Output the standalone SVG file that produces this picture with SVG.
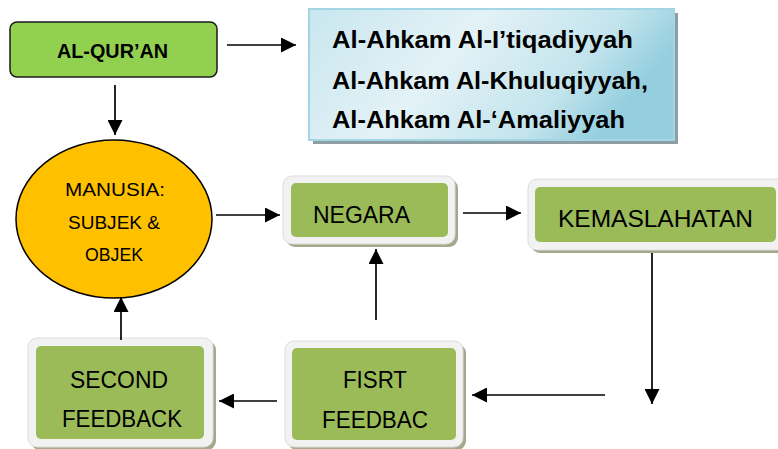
<svg xmlns="http://www.w3.org/2000/svg" width="778" height="449" viewBox="0 0 778 449">
<defs>
<marker id="ah" markerUnits="userSpaceOnUse" markerWidth="15" markerHeight="15" refX="15" refY="7.5" orient="auto">
<path d="M0,0 L15,7.5 L0,15 z" fill="#000"/>
</marker>
<linearGradient id="blue" x1="0" y1="0" x2="1" y2="0.3">
<stop offset="0" stop-color="#c9e6ef"/>
<stop offset="0.45" stop-color="#e3f2f6"/>
<stop offset="0.8" stop-color="#c3e4ed"/>
<stop offset="1" stop-color="#94cedf"/>
</linearGradient>
<style>
.t{font-family:"Liberation Sans",Arial,sans-serif;fill:#000;}
.b{font-weight:bold;}
.frame{fill:#f2f2f2;stroke:#dcdcdc;stroke-width:1;}
.shadow{fill:#a6a88c;}
.green{fill:#9bbb59;}
.con{stroke:#000;stroke-width:1.7;fill:none;marker-end:url(#ah);}
</style>
</defs>
<rect width="778" height="449" fill="#fff"/>

<g id="alquran">
<rect x="10" y="22" width="207" height="55" rx="7" fill="#92d050" stroke="#1a1a1a" stroke-width="1.5"/>
<text class="t b" x="112.5" y="58.3" font-size="19.5" text-anchor="middle" textLength="111" lengthAdjust="spacingAndGlyphs">AL-QUR’AN</text>
</g>

<g id="ahkam">
<rect x="313" y="13" width="365" height="131" fill="#8d9ea5"/>
<rect x="309" y="9" width="365" height="131" fill="url(#blue)" stroke="#a3d6e4" stroke-width="2"/>
<text class="t b" x="332" y="48.3" font-size="23" textLength="301" lengthAdjust="spacingAndGlyphs">Al-Ahkam Al-I’tiqadiyyah</text>
<text class="t b" x="332" y="89.3" font-size="23" textLength="316" lengthAdjust="spacingAndGlyphs">Al-Ahkam Al-Khuluqiyyah,</text>
<text class="t b" x="332" y="128.3" font-size="23" textLength="293" lengthAdjust="spacingAndGlyphs">Al-Ahkam Al-‘Amaliyyah</text>
</g>

<g id="manusia">
<ellipse cx="114" cy="219" rx="98" ry="79" fill="#ffc000" stroke="#000" stroke-width="1.5"/>
<text class="t" x="115" y="196" font-size="19" text-anchor="middle" textLength="100" lengthAdjust="spacingAndGlyphs">MANUSIA:</text>
<text class="t" x="114" y="229" font-size="19" text-anchor="middle" textLength="92" lengthAdjust="spacingAndGlyphs">SUBJEK &amp;</text>
<text class="t" x="114" y="261" font-size="19" text-anchor="middle" textLength="58" lengthAdjust="spacingAndGlyphs">OBJEK</text>
</g>

<g id="negara">
<rect class="shadow" x="286" y="179" width="172" height="68" rx="9"/>
<rect class="frame" x="283" y="176" width="172" height="68" rx="9"/>
<rect class="green" x="291" y="183" width="157" height="54" rx="5"/>
<text class="t" x="361.5" y="223.3" font-size="24" text-anchor="middle" textLength="97" lengthAdjust="spacingAndGlyphs">NEGARA</text>
</g>

<g id="kemaslahatan">
<rect class="shadow" x="531" y="182" width="260" height="71" rx="9"/>
<rect class="frame" x="528" y="179" width="260" height="71" rx="9"/>
<rect class="green" x="535" y="187" width="241" height="55" rx="5"/>
<text class="t" x="655.5" y="227.3" font-size="24" text-anchor="middle" textLength="195" lengthAdjust="spacingAndGlyphs">KEMASLAHATAN</text>
</g>

<g id="first-feedback">
<rect class="shadow" x="288" y="344" width="178" height="106" rx="9"/>
<rect class="frame" x="285" y="341" width="178" height="106" rx="9"/>
<rect class="green" x="292" y="348" width="164" height="92" rx="5"/>
<text class="t" x="375" y="388" font-size="24" text-anchor="middle" textLength="64" lengthAdjust="spacingAndGlyphs">FISRT</text>
<text class="t" x="375" y="428" font-size="24" text-anchor="middle" textLength="106" lengthAdjust="spacingAndGlyphs">FEEDBAC</text>
</g>

<g id="second-feedback">
<rect class="shadow" x="31" y="341" width="185" height="109" rx="9"/>
<rect class="frame" x="28" y="338" width="185" height="109" rx="9"/>
<rect class="green" x="36" y="346" width="168" height="93" rx="5"/>
<text class="t" x="119" y="388" font-size="24" text-anchor="middle" textLength="98" lengthAdjust="spacingAndGlyphs">SECOND</text>
<text class="t" x="122" y="427" font-size="24" text-anchor="middle" textLength="120" lengthAdjust="spacingAndGlyphs">FEEDBACK</text>
</g>

<g id="connectors">
<line class="con" x1="227" y1="45" x2="296" y2="45"/>
<line class="con" x1="115" y1="85" x2="115" y2="135"/>
<line class="con" x1="216" y1="215" x2="280" y2="215"/>
<line class="con" x1="463" y1="213" x2="521" y2="213"/>
<line class="con" x1="652" y1="253" x2="652" y2="404"/>
<line class="con" x1="605" y1="395" x2="472" y2="395"/>
<line class="con" x1="277" y1="401" x2="219" y2="401"/>
<line class="con" x1="121" y1="340" x2="121" y2="297"/>
<line class="con" x1="376" y1="320" x2="376" y2="249"/>
</g>
</svg>
